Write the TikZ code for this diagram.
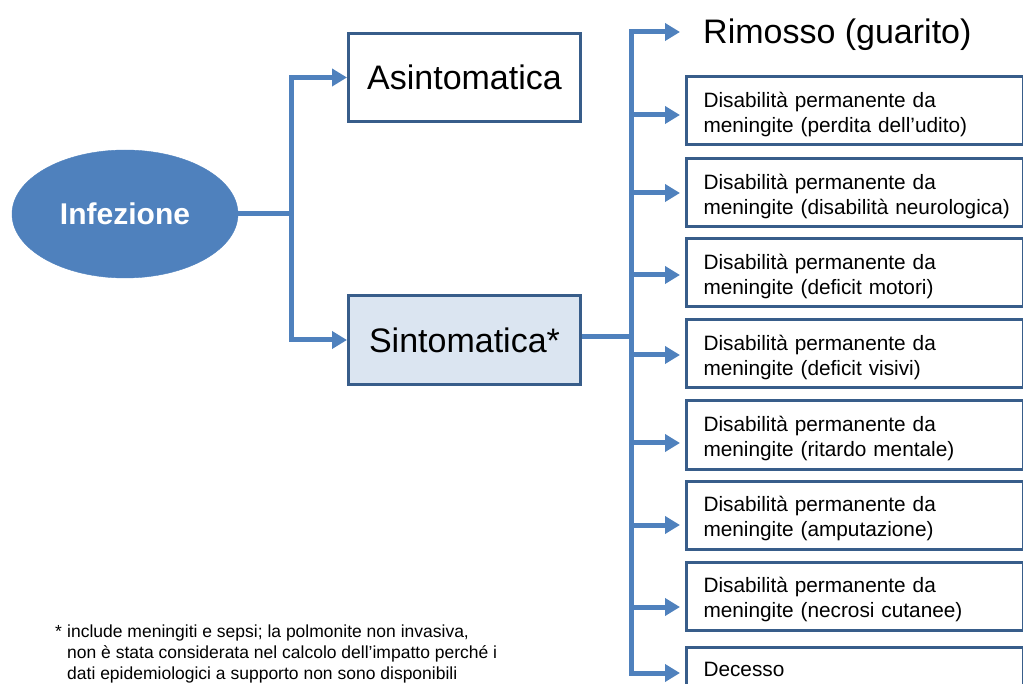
\documentclass[tikz,border=0pt]{standalone}
\usepackage{fontspec}
\setmainfont{Liberation Sans}
\usetikzlibrary{arrows.meta,shapes.geometric}
\definecolor{lineblue}{HTML}{4F81BD}
\definecolor{boxborder}{HTML}{385D8A}
\definecolor{lightfill}{HTML}{DBE5F1}
\newcommand{\toppad}{\rule{0pt}{23pt}}
\begin{document}
\begin{tikzpicture}[x=1pt,y=-1pt,
 bus/.style={draw=lineblue,line width=5pt},
 arr/.style={bus,-{Triangle[length=15pt,width=17pt]}},
 mainbox/.style={draw=boxborder,line width=3pt,minimum width=232pt,minimum height=88pt,
   font=\fontsize{34}{40}\selectfont,inner sep=0pt},
 outbox/.style={draw=boxborder,fill=white,line width=3pt,minimum height=68pt,text width=303pt,
   inner xsep=17pt,inner ysep=0pt,align=left,font=\fontsize{20.8}{25}\selectfont,anchor=west},
]
\useasboundingbox (0,0) rectangle (1023,684);
\clip (0,0) rectangle (1023,684);

% left part
\node[ellipse,draw=lineblue,fill=lineblue,minimum width=226pt,minimum height=128pt,inner sep=0pt,
  text=white,font=\bfseries\fontsize{30}{36}\selectfont] (inf) at (125,214) {Infezione};
\node[mainbox] (asin) at (464.5,77.5) {Asintomatica};
\node[mainbox,fill=lightfill,minimum height=89pt] (sint) at (464.5,340) {Sintomatica*};

% right outcomes
\node[anchor=west,inner xsep=18pt,inner ysep=0pt,font=\fontsize{34}{40}\selectfont] (rim) at (685,34.5) {Rimosso (guarito)};
\node[outbox] (b1) at (685,110.5) {\toppad Disabilità permanente da\\\mbox{meningite (perdita dell’udito)}};
\node[outbox] (b2) at (685,192.5) {\toppad Disabilità permanente da\\\mbox{meningite (disabilità neurologica)}};
\node[outbox] (b3) at (685,273) {\toppad Disabilità permanente da\\\mbox{meningite (deficit motori)}};
\node[outbox] (b4) at (685,354) {\toppad Disabilità permanente da\\\mbox{meningite (deficit visivi)}};
\node[outbox] (b5) at (685,435) {\toppad Disabilità permanente da\\\mbox{meningite (ritardo mentale)}};
\node[outbox] (b6) at (685,515) {\toppad Disabilità permanente da\\\mbox{meningite (amputazione)}};
\node[outbox] (b7) at (685,596) {\toppad Disabilità permanente da\\\mbox{meningite (necrosi cutanee)}};
\node[outbox] (b8) at (685,681.5) {Decesso\\~};

% connectors left
\coordinate (j1) at (291,214);
\draw[bus] (inf.east) -- (j1);
\draw[arr] (j1) |- (asin.west);
\draw[arr] (j1) |- (sint.west);

% connectors right
\coordinate (j2) at (631,337);
\draw[bus] ([yshift=3pt]sint.east) -- (j2);
\draw[arr,shorten >=5pt] (j2) |- ([yshift=2.5pt]rim.west);
\draw[arr,shorten >=5pt] (j2) |- ([yshift=-4.5pt]b1.west);
\draw[arr,shorten >=5pt] (j2) |- ([yshift=-0.5pt]b2.west);
\draw[arr,shorten >=5pt] (j2) |- ([yshift=-2pt]b3.west);
\draw[arr,shorten >=5pt] (j2) |- ([yshift=-1pt]b4.west);
\draw[arr,shorten >=5pt] (j2) |- ([yshift=-8pt]b5.west);
\draw[arr,shorten >=5pt] (j2) |- ([yshift=-10pt]b6.west);
\draw[arr,shorten >=5pt] (j2) |- ([yshift=-11pt]b7.west);
\draw[arr,shorten >=5pt] (j2) |- ([yshift=8.5pt]b8.west);

% footnote
\node[anchor=north west,inner sep=0pt,align=left,font=\fontsize{17.5}{21}\selectfont] (note) at (55,625)
 {\makebox[12pt][l]{*}include meningiti e sepsi; la polmonite non invasiva,\\
  \hspace*{12pt}non è stata considerata nel calcolo dell’impatto perché i\\
  \hspace*{12pt}dati epidemiologici a supporto non sono disponibili};
\end{tikzpicture}
\end{document}
